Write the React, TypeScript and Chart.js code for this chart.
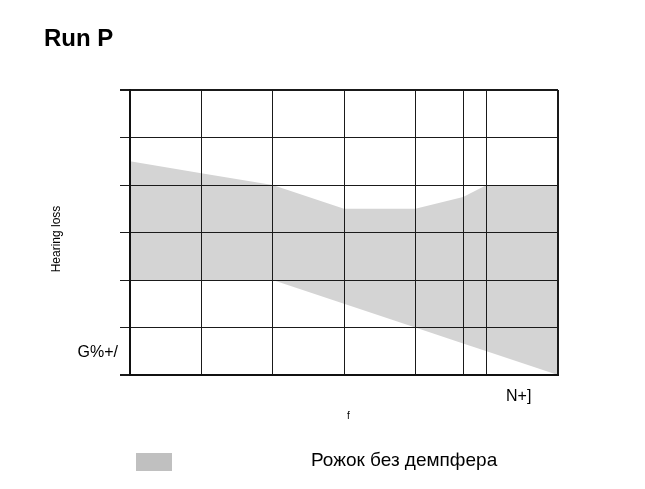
import React, { useEffect, useRef } from "react";
import { Chart, registerables } from "chart.js";

Chart.register(...registerables);

// Frequency grid positions (octave index; 125 Hz = 0 ... 8000 Hz = 6)
const freqPositions = [0, 1, 2, 3, 4, 4.67, 5, 6];
// Hearing loss boundaries of the shaded area (dB, larger = further down)
const upperBound = [30, 35, 40, 50, 50, 45, 40, 40];
const lowerBound = [80, 80, 80, 90, 100, 106.7, 110, 120];
// y ticks
const yMin = 0;
const yMax = 120;
const yStep = 20;

const titleText = "Run P";
const yTitle = "Hearing loss";
const xTitle = "f";
const yUnitLabel = "G%+/";
const xUnitLabel = "N+]";
const legendLabel = "Рожок без демпфера";

const FONT = "'Liberation Sans', Arial, sans-serif";
const FILL = "#d4d4d4";

const textPlugin = {
  id: "customText",
  afterDraw(chart: any) {
    const ctx = chart.ctx as CanvasRenderingContext2D;
    ctx.save();
    ctx.fillStyle = "#000";
    ctx.textBaseline = "alphabetic";
    ctx.textAlign = "left";
    ctx.font = `bold 24px ${FONT}`;
    ctx.fillText(titleText, 44, 46);

    ctx.font = `16px ${FONT}`;
    ctx.textAlign = "right";
    ctx.fillText(yUnitLabel, 118, 357);
    ctx.textAlign = "left";
    ctx.fillText(xUnitLabel, 506, 401);

    ctx.font = `10px ${FONT}`;
    ctx.fillText(xTitle, 347, 419);

    ctx.save();
    ctx.translate(57, 239);
    ctx.rotate(-Math.PI / 2);
    ctx.font = `12px ${FONT}`;
    ctx.textAlign = "center";
    ctx.textBaseline = "middle";
    ctx.fillText(yTitle, 0, 0);
    ctx.restore();

    ctx.fillStyle = "#c0c0c0";
    ctx.fillRect(136, 453, 36, 18);
    ctx.fillStyle = "#000";
    ctx.font = `19px ${FONT}`;
    ctx.textAlign = "left";
    ctx.fillText(legendLabel, 311, 466);
    ctx.restore();
  },
};

export default function App() {
  const ref = useRef<HTMLCanvasElement>(null);
  useEffect(() => {
    if (!ref.current) return;
    const edgeWidth = (c: any, lo: number, hi: number) =>
      c.tick && (c.tick.value === lo || c.tick.value === hi) ? 2 : 1;
    const chart = new Chart(ref.current, {
      type: "line",
      data: {
        datasets: [
          {
            data: freqPositions.map((x, i) => ({ x, y: upperBound[i] })),
            borderWidth: 0,
            pointRadius: 0,
            fill: false,
            backgroundColor: FILL,
          },
          {
            data: freqPositions.map((x, i) => ({ x, y: lowerBound[i] })),
            borderWidth: 0,
            pointRadius: 0,
            fill: "-1",
            backgroundColor: FILL,
          },
        ],
      },
      options: {
        responsive: false,
        animation: false,
        devicePixelRatio: 1,
        layout: { padding: { left: 120, top: 90, right: 87, bottom: 114 } },
        plugins: {
          legend: { display: false },
          title: { display: false },
          tooltip: { enabled: false },
        },
        scales: {
          x: {
            type: "linear",
            min: 0,
            max: 6,
            afterBuildTicks: (s: any) => {
              s.ticks = freqPositions.map((v) => ({ value: v }));
            },
            ticks: { display: false },
            grid: {
              z: 1,
              color: "#1a1a1a",
              lineWidth: (c: any) => edgeWidth(c, 0, 6),
              drawTicks: false,
            },
            border: { display: true, width: 2, color: "#111", z: 2 },
          },
          y: {
            type: "linear",
            reverse: true,
            min: yMin,
            max: yMax,
            ticks: { display: false, stepSize: yStep },
            grid: {
              z: 1,
              color: "#1a1a1a",
              lineWidth: (c: any) => edgeWidth(c, yMin, yMax),
              drawTicks: true,
              tickLength: 10,
            },
            border: { display: true, width: 2, color: "#111", z: 2 },
          },
        },
      },
      plugins: [textPlugin],
    });
    return () => chart.destroy();
  }, []);
  return (
    <div style={{ position: "absolute", left: 0, top: 0, width: 645, height: 489, background: "#fff" }}>
      <canvas ref={ref} width={645} height={489} />
    </div>
  );
}
